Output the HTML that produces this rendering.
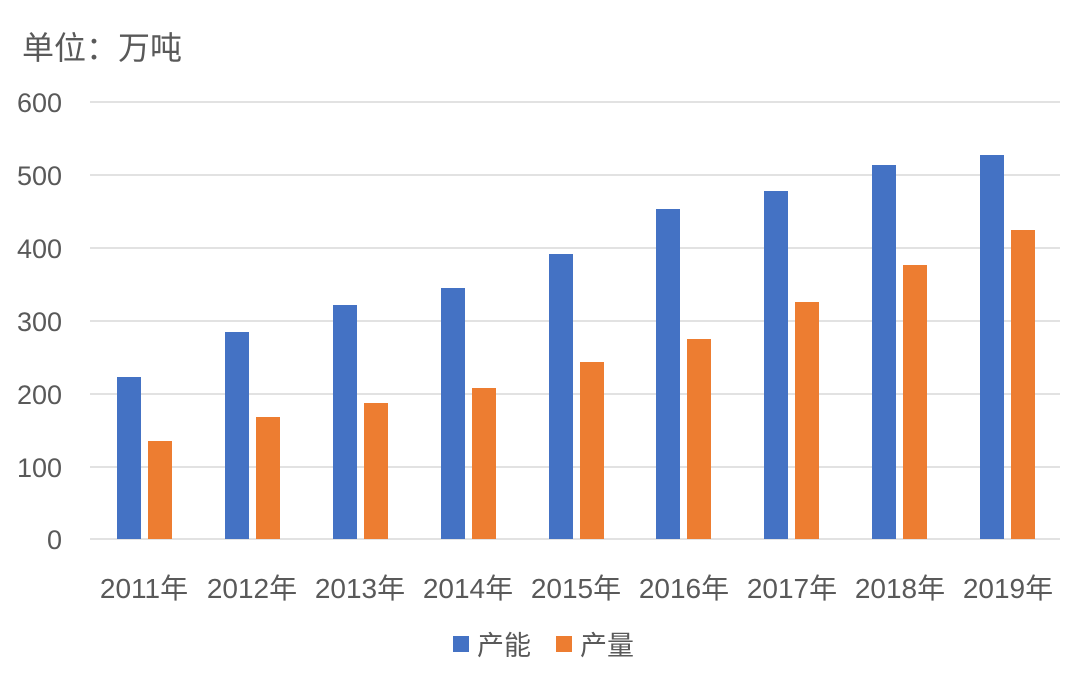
<!DOCTYPE html>
<html><head><meta charset="utf-8"><style>
body{margin:0;background:#fff;}
svg text{font-family:"Liberation Sans","Noto Sans CJK SC",sans-serif;fill:#595959;}
</style></head><body>
<svg width="1080" height="679" xmlns="http://www.w3.org/2000/svg">
<rect width="1080" height="679" fill="#fff"/>
<text x="22" y="59" font-size="32">单位：万吨</text>
<g stroke="#d9d9d9" stroke-width="1.5">
<line x1="90" x2="1060" y1="102" y2="102"/>
<line x1="90" x2="1060" y1="175" y2="175"/>
<line x1="90" x2="1060" y1="248" y2="248"/>
<line x1="90" x2="1060" y1="321" y2="321"/>
<line x1="90" x2="1060" y1="394" y2="394"/>
<line x1="90" x2="1060" y1="467" y2="467"/>
<line x1="90" x2="1060" y1="539" y2="539"/>
</g>
<g font-size="27" text-anchor="end">
<text x="62" y="112">600</text>
<text x="62" y="185">500</text>
<text x="62" y="258">400</text>
<text x="62" y="331">300</text>
<text x="62" y="404">200</text>
<text x="62" y="477">100</text>
<text x="62" y="549">0</text>
</g>
<g fill="#4472c4">
<rect x="117" y="377" width="24" height="162"/>
<rect x="225" y="332" width="24" height="207"/>
<rect x="333" y="305" width="24" height="234"/>
<rect x="441" y="288" width="24" height="251"/>
<rect x="549" y="254" width="24" height="285"/>
<rect x="656" y="209" width="24" height="330"/>
<rect x="764" y="191" width="24" height="348"/>
<rect x="872" y="165" width="24" height="374"/>
<rect x="980" y="155" width="24" height="384"/>
</g>
<g fill="#ed7d31">
<rect x="148" y="441" width="24" height="98"/>
<rect x="256" y="417" width="24" height="122"/>
<rect x="364" y="403" width="24" height="136"/>
<rect x="472" y="388" width="24" height="151"/>
<rect x="580" y="362" width="24" height="177"/>
<rect x="687" y="339" width="24" height="200"/>
<rect x="795" y="302" width="24" height="237"/>
<rect x="903" y="265" width="24" height="274"/>
<rect x="1011" y="230" width="24" height="309"/>
</g>
<g font-size="28" text-anchor="middle">
<text x="144" y="598">2011年</text>
<text x="252" y="598">2012年</text>
<text x="360" y="598">2013年</text>
<text x="468" y="598">2014年</text>
<text x="576" y="598">2015年</text>
<text x="684" y="598">2016年</text>
<text x="792" y="598">2017年</text>
<text x="900" y="598">2018年</text>
<text x="1008" y="598">2019年</text>
</g>
<rect x="453" y="636" width="16" height="16" fill="#4472c4"/>
<text x="477" y="655" font-size="27">产能</text>
<rect x="556" y="636" width="16" height="16" fill="#ed7d31"/>
<text x="580" y="655" font-size="27">产量</text>
</svg>
</body></html>
